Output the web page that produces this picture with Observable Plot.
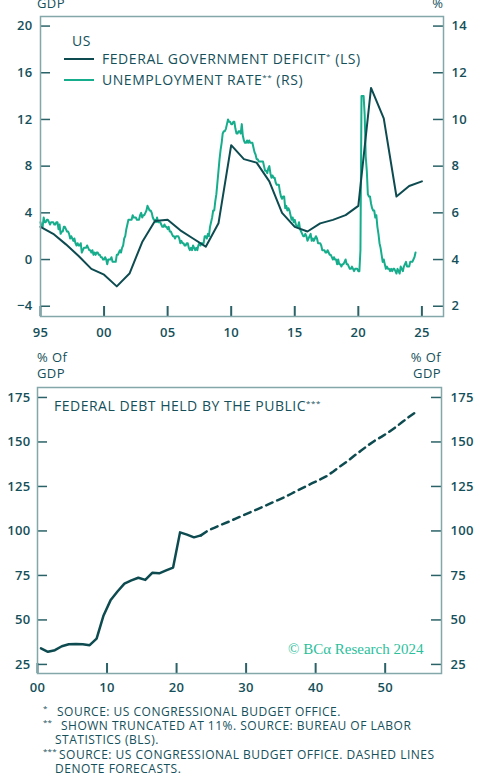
<!DOCTYPE html>
<html><head><meta charset="utf-8">
<script src="https://cdn.jsdelivr.net/npm/d3@7"></script>
<script src="https://cdn.jsdelivr.net/npm/@observablehq/plot@0.6"></script>
<style>
html,body{margin:0;padding:0;background:#fff;}
#wrap{position:relative;width:482px;height:778px;overflow:hidden;font-family:"Open Sans",sans-serif;color:#15505a;}
.abs{position:absolute;white-space:nowrap;}
.chart{position:absolute;left:0;}
#notes{position:absolute;left:0;top:704.5px;font-size:12px;font-weight:500;line-height:14.4px;letter-spacing:0.5px;white-space:nowrap;}
#notes .row{position:relative;}
#notes .mk{position:absolute;left:43px;top:-4px;font-size:8px;letter-spacing:0.2px;}
</style></head><body><div id="wrap"></div>
<script>
// ---------- DATA ----------
// Top panel: federal deficit (% of GDP, left scale), plotted at fiscal year end
const deficitYears = [1995,1996,1997,1998,1999,2000,2001,2002,2003,2004,2005,2006,2007,2008,2009,2010,2011,2012,2013,2014,2015,2016,2017,2018,2019,2020,2021,2022,2023,2024,2025];
const deficitValues = [2.8,2.2,1.3,0.3,-0.8,-1.3,-2.3,-1.2,1.5,3.3,3.4,2.5,1.8,1.1,3.1,9.8,8.6,8.3,6.7,4.0,2.8,2.4,3.1,3.4,3.8,4.6,14.7,12.1,5.4,6.3,6.7];

// Unemployment rate (%, right scale), monthly from Jan 1995
const unemploymentStartYear = 1995;
const unemploymentRate = [
5.6,5.4,5.4,5.8,5.6,5.6,5.7,5.7,5.6,5.5,5.6,5.6,
5.6,5.5,5.5,5.6,5.6,5.3,5.5,5.1,5.2,5.2,5.4,5.4,
5.3,5.2,5.2,5.1,4.9,5.0,4.9,4.8,4.9,4.7,4.6,4.7,
4.6,4.6,4.7,4.3,4.4,4.5,4.5,4.5,4.6,4.5,4.4,4.4,
4.3,4.4,4.2,4.3,4.2,4.3,4.3,4.2,4.2,4.1,4.1,4.0,
4.0,4.1,4.0,3.8,4.0,4.0,4.0,4.1,3.9,3.9,3.9,3.9,
4.2,4.2,4.3,4.4,4.3,4.5,4.6,4.9,5.0,5.3,5.5,5.7,
5.7,5.7,5.7,5.9,5.8,5.8,5.8,5.7,5.7,5.7,5.9,6.0,
5.8,5.9,5.9,6.0,6.1,6.3,6.2,6.1,6.1,6.0,5.8,5.7,
5.7,5.6,5.8,5.6,5.6,5.6,5.5,5.4,5.4,5.5,5.4,5.4,
5.3,5.4,5.2,5.2,5.1,5.0,5.0,4.9,5.0,5.0,5.0,4.9,
4.7,4.8,4.7,4.7,4.6,4.6,4.7,4.7,4.5,4.4,4.5,4.4,
4.6,4.5,4.4,4.5,4.4,4.6,4.7,4.6,4.7,4.7,4.7,5.0,
5.0,4.9,5.1,5.0,5.4,5.6,5.8,6.1,6.1,6.5,6.8,7.3,
7.8,8.3,8.7,9.0,9.4,9.5,9.5,9.6,9.8,10.0,9.9,9.9,
9.8,9.8,9.9,9.9,9.6,9.4,9.4,9.5,9.5,9.4,9.8,9.3,
9.1,9.0,9.0,9.1,9.0,9.1,9.0,9.0,9.0,8.8,8.6,8.5,
8.3,8.3,8.2,8.2,8.2,8.2,8.2,8.0,7.8,7.8,7.7,7.9,
8.0,7.7,7.5,7.6,7.5,7.5,7.3,7.2,7.2,7.2,6.9,6.7,
6.6,6.7,6.7,6.2,6.3,6.1,6.2,6.1,5.9,5.7,5.8,5.6,
5.7,5.5,5.4,5.4,5.6,5.3,5.2,5.1,5.0,5.0,5.1,5.0,
4.8,4.9,5.0,5.1,4.8,4.9,4.8,4.9,5.0,4.9,4.7,4.7,
4.7,4.6,4.4,4.4,4.4,4.3,4.3,4.4,4.3,4.2,4.2,4.1,
4.0,4.1,4.0,4.0,3.8,4.0,3.8,3.8,3.7,3.8,3.8,3.9,
4.0,3.8,3.8,3.7,3.6,3.6,3.7,3.6,3.5,3.6,3.6,3.6,
3.5,3.5,4.4,14.8,13.2,11.0,10.2,8.4,7.8,6.8,6.7,6.7,
6.4,6.2,6.1,6.1,5.8,5.9,5.4,5.1,4.7,4.5,4.2,3.9,
4.0,3.8,3.6,3.7,3.6,3.6,3.5,3.6,3.5,3.6,3.6,3.5,
3.4,3.6,3.5,3.4,3.7,3.6,3.5,3.7,3.8,3.9,3.7,3.7,
3.7,3.9,3.9,3.9,4.0,4.1,4.3
];
const unemploymentCap = 11;

const topLeftTicks = [-4,0,4,8,12,16,20];
const topRightTicks = [2,4,6,8,10,12,14];
const topXTicks = [1995,2000,2005,2010,2015,2020,2025];

// Bottom panel: federal debt held by the public (% of GDP), by fiscal year
const debtActualYears = [2000,2001,2002,2003,2004,2005,2006,2007,2008,2009,2010,2011,2012,2013,2014,2015,2016,2017,2018,2019,2020,2021,2022,2023];
const debtActualValues = [34.0,32.1,33.0,35.2,36.3,36.5,36.3,35.8,39.5,52.5,61.0,66.0,70.4,72.2,73.7,72.5,76.5,76.2,77.8,79.4,99.2,97.9,96.4,97.5];
const debtForecastYears = [2023,2024,2025,2026,2027,2028,2029,2030,2031,2032,2033,2034,2035,2036,2037,2038,2039,2040,2041,2042,2043,2044,2045,2046,2047,2048,2049,2050,2051,2052,2053,2054];
const debtForecastValues = [97.5,100.2,101.9,103.6,105.2,106.9,108.6,110.3,112.0,113.7,115.5,117.2,118.9,120.9,122.9,124.9,126.8,128.7,130.6,133.3,136.2,139.0,142.1,145.0,148.0,150.7,153.0,155.5,158.3,161.3,164.3,167.0];

const bottomYTicks = [25,50,75,100,125,150,175];
const bottomXTicks = [2000,2010,2020,2030,2040,2050];

// footnotes
const footnoteMarks = ["*", "**", "***"];
const footnoteLines = [
  ["SOURCE: US CONGRESSIONAL BUDGET OFFICE."],
  ["SHOWN TRUNCATED AT 11%. SOURCE: BUREAU OF LABOR", "STATISTICS (BLS)."],
  ["SOURCE: US CONGRESSIONAL BUDGET OFFICE. DASHED LINES", "DENOTE FORECASTS."]
];
const footnoteIndent = [57, 61, 59];

// ---------- STYLE ----------
const DARK = "#0d4b50";
const GREEN = "#16ad8c";
const FRAME = "#84a8aa";
const TICK = "#2a6267";
const TEXT = "#15505a";
const FONT = "'Open Sans', sans-serif";

const wrap = document.getElementById("wrap");

// right-scale (unemployment %) -> left-scale (deficit % GDP) mapping from axis ticks
const rToL = d3.scaleLinear().domain([topRightTicks[0], topRightTicks[topRightTicks.length-1]])
  .range([topLeftTicks[0], topLeftTicks[topLeftTicks.length-1]]);
const lToR = rToL.copy().domain(rToL.range()).range(rToL.domain());

const deficitPts = deficitYears.map((y,i) => ({x: y, v: deficitValues[i]}));
const unempPts = unemploymentRate.map((u,i) => ({x: unemploymentStartYear + i/12, v: rToL(Math.min(u, unemploymentCap))}));

// ---------- TOP CHART ----------
const T = {w: 482, h: 350, ml: 40, mr: 39, mt: 16, mb: 34};
const tpw = T.w - T.ml - T.mr, tph = T.h - T.mt - T.mb;
const topChart = Plot.plot({
  width: T.w, height: T.h,
  marginLeft: T.ml, marginRight: T.mr, marginTop: T.mt, marginBottom: T.mb,
  x: {domain: [1995, 2026.7]},
  y: {domain: [-4.88, 20.82]},
  style: {fontFamily: FONT, fontSize: "13px", fontWeight: 600, color: TEXT, background: "transparent", overflow: "visible", letterSpacing: "0.3px"},
  marks: [
    Plot.line(unempPts, {x: "x", y: "v", stroke: GREEN, strokeWidth: 2}),
    Plot.line(deficitPts, {x: "x", y: "v", stroke: DARK, strokeWidth: 2}),
    Plot.tickY(topLeftTicks, {y: d => d, stroke: TICK, strokeWidth: 1.5, insetRight: tpw - 10}),
    Plot.tickY(topLeftTicks, {y: d => d, stroke: TICK, strokeWidth: 1.5, insetLeft: tpw - 10}),
    Plot.tickX(topXTicks, {x: d => d, stroke: TICK, strokeWidth: 2, insetTop: tph - 10}),
    Plot.frame({stroke: FRAME, strokeWidth: 1.5}),
    Plot.axisY({ticks: topLeftTicks, tickSize: 0, tickPadding: 8, label: null}),
    Plot.axisY({anchor: "right", ticks: topLeftTicks, tickFormat: d => String(Math.round(lToR(d))), tickSize: 0, tickPadding: 8, label: null}),
    Plot.axisX({ticks: topXTicks, tickFormat: d => String(d % 100).padStart(2, "0"), tickSize: 0, tickPadding: 11, label: null})
  ]
});
topChart.classList.add("chart");
topChart.style.top = "0px";
wrap.appendChild(topChart);

// ---------- BOTTOM CHART ----------
const B = {top: 345, w: 482, h: 355, ml: 37, mr: 41, mt: 42, mb: 27};
const bpw = B.w - B.ml - B.mr, bph = B.h - B.mt - B.mb;
const debtActual = debtActualYears.map((y,i) => ({x: y + 0.5, v: debtActualValues[i]}));
const debtForecast = debtForecastYears.map((y,i) => ({x: y + 0.5, v: debtForecastValues[i]}));
const bottomChart = Plot.plot({
  width: B.w, height: B.h,
  marginLeft: B.ml, marginRight: B.mr, marginTop: B.mt, marginBottom: B.mb,
  x: {domain: [2000, 2058.1]},
  y: {domain: [19.9, 180.6]},
  style: {fontFamily: FONT, fontSize: "13px", fontWeight: 600, color: TEXT, background: "transparent", overflow: "visible", letterSpacing: "0.3px"},
  marks: [
    Plot.line(debtForecast, {x: "x", y: "v", stroke: DARK, strokeWidth: 2.5, strokeDasharray: "7,5"}),
    Plot.line(debtActual, {x: "x", y: "v", stroke: DARK, strokeWidth: 2.5}),
    Plot.tickY(bottomYTicks, {y: d => d, stroke: TICK, strokeWidth: 1.5, insetRight: bpw - 10}),
    Plot.tickY(bottomYTicks, {y: d => d, stroke: TICK, strokeWidth: 1.5, insetLeft: bpw - 10}),
    Plot.tickX(bottomXTicks, {x: d => d, stroke: TICK, strokeWidth: 2, insetTop: bph - 10}),
    Plot.frame({stroke: FRAME, strokeWidth: 1.5}),
    Plot.axisY({ticks: bottomYTicks, tickSize: 0, tickPadding: 7, label: null}),
    Plot.axisY({anchor: "right", ticks: bottomYTicks, tickSize: 0, tickPadding: 9, label: null}),
    Plot.axisX({ticks: bottomXTicks, tickFormat: d => String(d % 100).padStart(2, "0"), tickSize: 0, tickPadding: 9, label: null})
  ]
});
bottomChart.classList.add("chart");
bottomChart.style.top = B.top + "px";
wrap.appendChild(bottomChart);

// ---------- TEXT OVERLAYS ----------
function label(text, x, top, {size = 13, weight = 500, color = TEXT, align = "left", family = FONT, lh, ls = 0} = {}) {
  const d = document.createElement("div");
  d.className = "abs";
  lh = lh || size * 1.2;
  d.style.fontSize = size + "px";
  d.style.fontWeight = weight;
  d.style.color = color;
  d.style.fontFamily = family;
  d.style.lineHeight = lh + "px";
  d.style.letterSpacing = ls + "px";
  d.style.top = (top - lh / 2) + "px";
  if (align === "right") { d.style.right = (482 - x) + "px"; d.style.textAlign = "right"; }
  else d.style.left = x + "px";
  d.innerHTML = text;
  wrap.appendChild(d);
  return d;
}
function swatch(x1, x2, y, color) {
  const d = document.createElement("div");
  d.className = "abs";
  d.style.left = x1 + "px"; d.style.width = (x2 - x1) + "px";
  d.style.top = (y - 1) + "px"; d.style.height = "2px"; d.style.background = color;
  wrap.appendChild(d);
}
const sup = s => `<span style="font-size:8px;position:relative;top:-5px;letter-spacing:0.5px">${s}</span>`;

// top panel axis titles (partly cut off at the top edge)
label("GDP", 37, 4, {size: 13, ls: 0.4});
label("%", 443, 4, {size: 13, align: "right"});
// top legend
label("US", 72, 41, {size: 14, ls: 0.5});
swatch(64, 94, 59, DARK);
label("FEDERAL GOVERNMENT DEFICIT" + sup("*") + " (LS)", 102, 59, {size: 14, ls: 0.56});
swatch(64, 94, 80, GREEN);
label("UNEMPLOYMENT RATE" + sup("**") + " (RS)", 102, 80, {size: 14, ls: 0.56});

// bottom panel axis titles (first line centred at y=357, second at 373)
label("% Of<br>GDP", 37, 357, {size: 13, ls: 0.4, lh: 16});
label("% Of<br>GDP", 441, 357, {size: 13, align: "right", ls: 0.4, lh: 16});
label("FEDERAL DEBT HELD BY THE PUBLIC" + sup("***"), 54, 406, {size: 14, ls: 0.5});
label("© BC&alpha; Research 2024", 288, 649, {size: 15, weight: 400, color: "#2bbf9c", family: "'Liberation Serif', serif"});

// footnotes as a single block
const notes = document.createElement("div");
notes.id = "notes";
footnoteLines.forEach((lines, i) => {
  lines.forEach((line, j) => {
    const row = document.createElement("div");
    row.className = "row";
    row.style.paddingLeft = (j === 0 ? footnoteIndent[i] : 55) + "px";
    if (j === 0) row.innerHTML = `<span class="mk">${footnoteMarks[i]}</span>`;
    row.appendChild(document.createTextNode(line));
    notes.appendChild(row);
  });
});
wrap.appendChild(notes);
</script>
</body></html>
